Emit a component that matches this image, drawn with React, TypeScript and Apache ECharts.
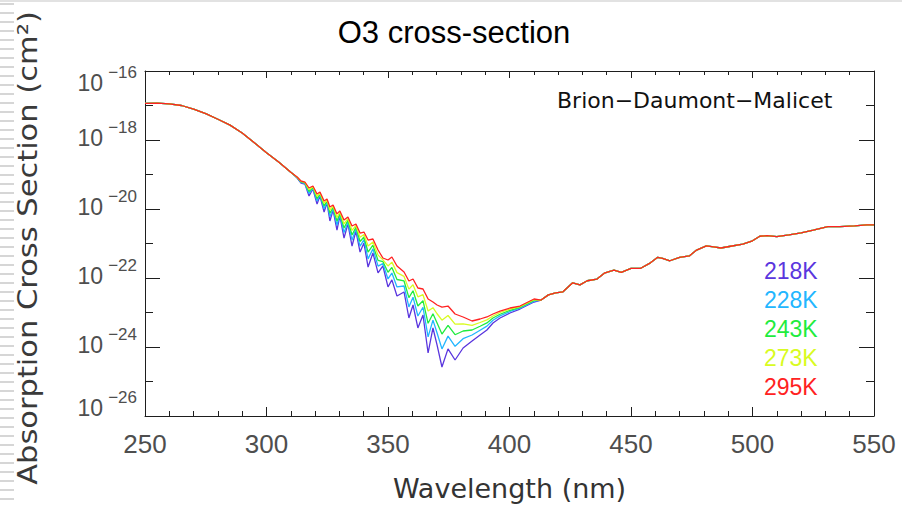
import React, { useEffect, useRef } from "react";
import * as echarts from "echarts";

// ---------- data ----------
const headWavelengths = [250, 255, 260, 265, 270, 275, 280, 285, 290, 295, 300, 305, 310];
const headSigma = [1.15e-17, 1.17e-17, 1.12e-17, 1.0e-17, 7.9e-18, 5.8e-18, 4.0e-18, 2.7e-18, 1.6e-18, 8.3e-19, 4.3e-19, 2.3e-19, 1.17e-19];

const bandWavelengths = [
  312.6, 314.2, 315.8, 317.5, 319.1, 320.8, 322.0, 323.7, 324.9, 326.1, 327.4, 329.0, 330.2, 331.9, 333.5, 335.2,
  336.8, 338.5, 340.1, 341.8, 343.8, 345.9, 347.9, 350.0, 351.6, 353.7, 356.6, 358.6, 360.3, 362.3, 364.4, 366.5,
  368.5, 370.2, 372.2, 374.7, 377.6, 380.9, 384.6, 387.9, 390.7, 393.2, 396.1, 400.2, 404.3, 410.1,
];
const band295K = [
  8.46e-20, 6.48e-20, 6.06e-20, 4.06e-20, 4.64e-20, 2.72e-20, 3.11e-20, 1.71e-20, 1.95e-20, 1.14e-20, 1.31e-20, 7.2e-21,
  8.8e-21, 4.8e-21, 5.87e-21, 3.21e-21, 3.68e-21, 2.01e-21, 2.15e-21, 1.26e-21, 1.35e-21, 6.48e-22, 3.8e-22, 3.32e-22,
  4.06e-22, 2.23e-22, 1.49e-22, 8.2e-23, 9.35e-23, 5.13e-23, 4.8e-23, 2.46e-23, 2.01e-23, 1.65e-23, 1.44e-23, 1.54e-23,
  9.05e-24, 7.41e-24, 5.67e-24, 6.48e-24, 7.41e-24, 9.05e-24, 1.1e-23, 1.35e-23, 1.54e-23, 2.46e-23,
];
const band273K = [
  8.35e-20, 6.3e-20, 5.9e-20, 3.6e-20, 4.4e-20, 2.35e-20, 2.93e-20, 1.45e-20, 1.83e-20, 9.3e-21, 1.21e-20, 5.67e-21,
  8.1e-21, 3.68e-21, 5.3e-21, 2.4e-21, 3.32e-21, 1.52e-21, 1.83e-21, 8.46e-22, 1.1e-21, 4.6e-22, 3.37e-22, 2.24e-22,
  2.89e-22, 1.43e-22, 1.11e-22, 4.76e-23, 6.4e-23, 2.85e-23, 3.28e-23, 1.11e-23, 1.38e-23, 9.2e-24, 6.0e-24, 8.2e-24,
  4.6e-24, 4.7e-24, 4.23e-24, 5.13e-24, 6.1e-24, 7.92e-24, 1.0e-23, 1.25e-23, 1.47e-23, 2.34e-23,
];
const band243K = [
  8.2e-20, 6.1e-20, 5.7e-20, 3.2e-20, 4.2e-20, 2.0e-20, 2.76e-20, 1.22e-20, 1.73e-20, 7.5e-21, 1.12e-20, 4.43e-21,
  7.5e-21, 2.8e-21, 4.74e-21, 1.76e-21, 2.97e-21, 1.14e-21, 1.54e-21, 5.6e-22, 8.9e-22, 3.24e-22, 2.99e-22, 1.47e-22,
  2.03e-22, 9.05e-23, 8.2e-23, 2.69e-23, 4.28e-23, 1.54e-23, 2.2e-23, 4.87e-24, 9.2e-24, 4.96e-24, 2.38e-24, 4.23e-24,
  2.27e-24, 2.91e-24, 3.11e-24, 4.0e-24, 5.0e-24, 6.93e-24, 8.9e-24, 1.16e-23, 1.41e-23, 2.24e-23,
];
const band228K = [
  8.1e-20, 5.9e-20, 5.5e-20, 2.8e-20, 4.0e-20, 1.71e-20, 2.58e-20, 1.02e-20, 1.62e-20, 5.95e-21, 1.03e-20, 3.4e-21,
  6.93e-21, 2.07e-21, 4.23e-21, 1.26e-21, 2.65e-21, 8.3e-22, 1.29e-21, 3.58e-22, 7.0e-22, 2.21e-22, 2.62e-22, 9.4e-23,
  1.39e-22, 5.5e-23, 5.87e-23, 1.45e-23, 2.78e-23, 7.92e-24, 1.42e-23, 1.97e-24, 6.0e-24, 2.55e-24, 8.8e-25, 2.07e-24,
  1.05e-24, 1.74e-24, 2.23e-24, 3.07e-24, 4.03e-24, 5.95e-24, 7.97e-24, 1.07e-23, 1.34e-23, 2.14e-23,
];
const band218K = [
  7.92e-20, 5.67e-20, 5.3e-20, 2.38e-20, 3.8e-20, 1.4e-20, 2.38e-20, 8.2e-21, 1.49e-20, 4.5e-21, 9.3e-21, 2.46e-21,
  6.3e-21, 1.44e-21, 3.68e-21, 8.46e-22, 2.3e-21, 5.67e-22, 1.03e-21, 2.08e-22, 5.3e-22, 1.4e-22, 2.23e-22, 5.5e-23,
  8.8e-23, 3.01e-23, 3.93e-23, 6.93e-24, 1.65e-23, 3.56e-24, 8.46e-24, 6.7e-25, 3.56e-24, 1.14e-24, 2.63e-25, 8.8e-25,
  4.2e-25, 9.35e-25, 1.49e-24, 2.23e-24, 3.11e-24, 4.96e-24, 6.93e-24, 9.67e-24, 1.26e-23, 2.01e-23,
];

const tailWavelengths = [
  413, 416, 419, 422, 426, 429, 432, 436, 439, 443, 446, 450, 454, 458, 461, 463, 466, 470, 474, 477, 481, 484, 487,
  491, 496, 500, 503, 506, 510, 515, 520, 525, 531, 536, 542, 547, 550,
];
const tailSigma = [
  2.29e-23, 3.24e-23, 3.72e-23, 3.98e-23, 7.24e-23, 6.31e-23, 8.32e-23, 9.33e-23, 1.38e-22, 1.7e-22, 1.45e-22,
  1.91e-22, 1.91e-22, 2.75e-22, 3.98e-22, 3.72e-22, 3.16e-22, 3.98e-22, 4.37e-22, 6.46e-22, 8.51e-22, 7.94e-22,
  7.41e-22, 8.32e-22, 9.55e-22, 1.2e-21, 1.62e-21, 1.7e-21, 1.58e-21, 1.78e-21, 2.04e-21, 2.45e-21, 3.09e-21,
  3.09e-21, 3.24e-21, 3.47e-21, 3.47e-21,
];

const temperatures = ["218K", "228K", "243K", "273K", "295K"];
const temperatureColors = ["#5a36de", "#22b6ff", "#1fec3e", "#d9fb22", "#ff2222"];
const bandByTemperature = [band218K, band228K, band243K, band273K, band295K];

const labelledDecades = [1e-26, 1e-24, 1e-22, 1e-20, 1e-18, 1e-16];
const minorDecades = [1e-25, 1e-23, 1e-21, 1e-19, 1e-17];

// ---------- chart ----------
const LIB = "'Liberation Sans', Arial, sans-serif";
const DEJA = "'DejaVu Sans', sans-serif";
const AXIS = "#1e1e1e";
const LABEL = "#4e4e4e";

function buildOption() {
  const wavelengths = [...headWavelengths, ...bandWavelengths, ...tailWavelengths];
  const series = temperatures.map((t, k) => {
    const values = [...headSigma, ...bandByTemperature[k], ...tailSigma];
    return {
      name: t,
      type: "line",
      xAxisIndex: 0,
      yAxisIndex: 0,
      showSymbol: false,
      symbol: "none",
      color: temperatureColors[k],
      lineStyle: { width: 1.3, color: temperatureColors[k] },
      data: wavelengths.map((w, i) => [w, values[i]]),
      z: 2 + k,
    };
  });

  const yBase = {
    type: "log",
    logBase: 10,
    min: 1e-26,
    max: 1e-16,
    splitLine: { show: false },
    minorTick: { show: false },
    minorSplitLine: { show: false },
  };
  const lineStyle = { color: AXIS, width: 1 };
  const xBase = {
    type: "value",
    min: 250,
    max: 550,
    interval: 50,
    splitLine: { show: false },
    minorSplitLine: { show: false },
  };

  const stripes: any[] = [];
  for (let y = 3; y < 507; y += 9) {
    stripes.push({ type: "rect", shape: { x: 0, y, width: 14, height: 2 }, style: { fill: "#d6d6d6" }, silent: true });
  }

  return {
    animation: false,
    backgroundColor: "#ffffff",
    title: {
      text: "O3 cross-section",
      left: 449,
      textAlign: "center",
      top: 12,
      textStyle: { fontFamily: LIB, fontSize: 31, fontWeight: "normal", color: "#000" },
    },
    legend: {
      orient: "vertical",
      left: 754,
      top: 254,
      icon: "none",
      itemWidth: 0,
      itemHeight: 23,
      itemGap: 6,
      selectedMode: false,
      data: temperatures.map((t, k) => ({ name: t, textStyle: { color: temperatureColors[k] } })),
      textStyle: { fontFamily: LIB, fontSize: 23 },
    },
    grid: { left: 145, right: 28, top: 71, bottom: 91, containLabel: false },
    xAxis: [
      {
        ...xBase,
        position: "bottom",
        axisLine: { show: true, onZero: false, lineStyle },
        axisTick: { show: true, inside: true, length: 9, lineStyle },
        minorTick: { show: true, splitNumber: 5, length: 5, lineStyle },
        axisLabel: { fontFamily: LIB, fontSize: 26, color: LABEL, margin: 15 },
        name: "Wavelength (nm)",
        nameLocation: "middle",
        nameGap: 59,
        nameTextStyle: { fontFamily: DEJA, fontSize: 27, color: "#333" },
      },
      {
        ...xBase,
        position: "top",
        axisLine: { show: true, onZero: false, lineStyle },
        axisTick: { show: true, inside: true, length: 7, lineStyle },
        minorTick: { show: true, splitNumber: 5, length: 4, lineStyle },
        axisLabel: { show: false },
      },
    ],
    yAxis: [
      {
        ...yBase,
        position: "left",
        axisLine: { show: true, lineStyle },
        axisTick: { show: true, inside: true, length: 15, lineStyle, customValues: labelledDecades },
        axisLabel: {
          show: true,
          customValues: labelledDecades,
          margin: 8,
          color: LABEL,
          fontFamily: LIB,
          formatter: (v: number) => {
            const e = Math.round(Math.log10(v));
            const main = `{b|10}{s|\u2212${Math.abs(e)}}`;
            if (e === -16) return `{p24| }\n${main}`;
            if (e === -26) return `${main}\n{p16| }`;
            return `${main}\n{p4| }`;
          },
          rich: {
            b: { fontFamily: LIB, fontSize: 23, lineHeight: 39, color: LABEL, verticalAlign: "middle" },
            s: { fontFamily: LIB, fontSize: 17, lineHeight: 39, color: LABEL, verticalAlign: "top", padding: [0, 0, 0, 5] },
            p24: { fontSize: 4, lineHeight: 24 },
            p16: { fontSize: 4, lineHeight: 16 },
            p4: { fontSize: 4, lineHeight: 4 },
          },
        },
      },
      {
        ...yBase,
        position: "left",
        axisLine: { show: false },
        axisTick: { show: true, inside: true, length: 8, lineStyle, customValues: minorDecades },
        axisLabel: { show: false },
      },
      {
        ...yBase,
        position: "right",
        axisLine: { show: true, lineStyle },
        axisTick: { show: true, inside: true, length: 15, lineStyle, customValues: labelledDecades },
        axisLabel: { show: false },
      },
      {
        ...yBase,
        position: "right",
        axisLine: { show: false },
        axisTick: { show: true, inside: true, length: 8, lineStyle, customValues: minorDecades },
        axisLabel: { show: false },
      },
    ],
    graphic: [
      ...stripes,
      { type: "rect", shape: { x: 0, y: 0, width: 902, height: 2 }, style: { fill: "#e2e2e2" }, silent: true },
      {
        type: "text",
        x: 28,
        y: 248,
        rotation: Math.PI / 2,
        scaleX: 1.13,
        style: {
          text: "Absorption Cross Section (cm\u00b2)",
          font: `27px ${DEJA}`,
          fill: "#3a3a3a",
          align: "center",
          verticalAlign: "middle",
        },
        silent: true,
      },
      {
        type: "text",
        x: 557,
        y: 100,
        style: {
          text: "Brion\u2212Daumont\u2212Malicet",
          font: `22px ${DEJA}`,
          fill: "#111",
          align: "left",
          verticalAlign: "middle",
        },
        silent: true,
      },
    ],
    series,
  };
}

export default function App() {
  const ref = useRef<HTMLDivElement>(null);
  useEffect(() => {
    const chart = echarts.init(ref.current!, null, { renderer: "svg" });
    chart.setOption(buildOption() as any);
    return () => chart.dispose();
  }, []);
  return (
    <div
      ref={ref}
      style={{ position: "absolute", left: 0, top: 0, width: 902, height: 507 }}
    />
  );
}
